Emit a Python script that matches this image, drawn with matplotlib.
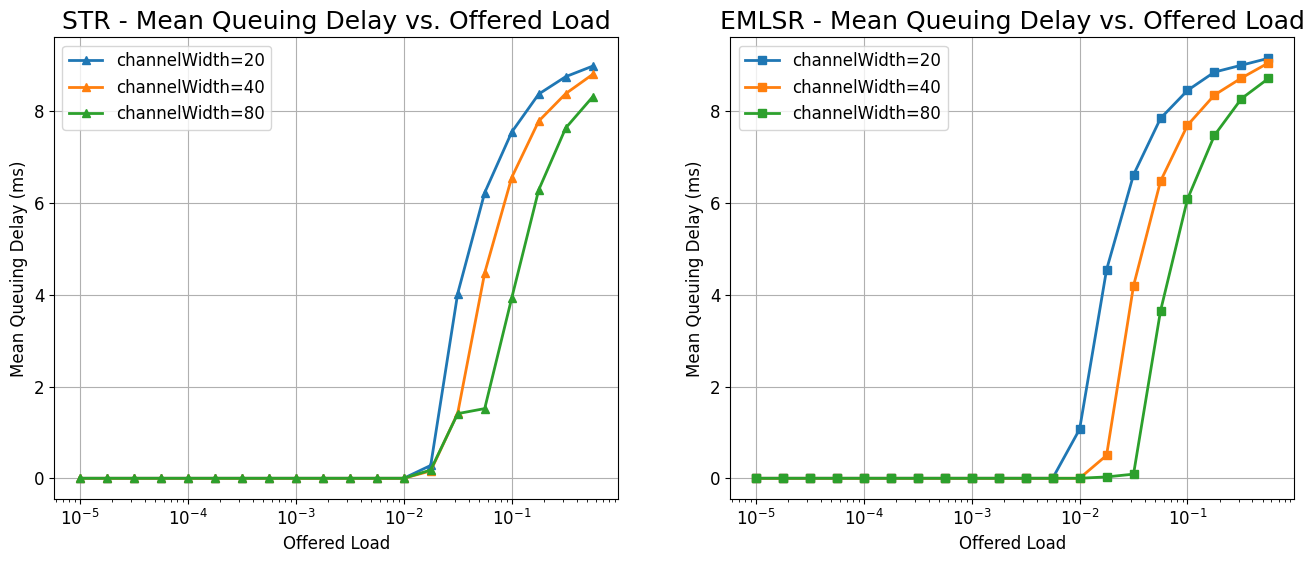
import numpy as np
import matplotlib
matplotlib.use("Agg")
import matplotlib.pyplot as plt

# offered load (4 points per decade)
load = [1e-5, 1.778e-5, 3.162e-5, 5.623e-5,
        1e-4, 1.778e-4, 3.162e-4, 5.623e-4,
        1e-3, 1.778e-3, 3.162e-3, 5.623e-3,
        1e-2, 1.778e-2, 3.162e-2, 5.623e-2,
        1e-1, 1.778e-1, 3.162e-1, 5.623e-1]

widths = [20, 40, 80]

# STR mean queuing delay (ms)
str_20 = [0]*13 + [0.28, 4.03, 6.23, 7.55, 8.38, 8.76, 8.99]
str_40 = [0]*13 + [0.16, 1.42, 4.48, 6.56, 7.79, 8.39, 8.81]
str_80 = [0]*13 + [0.18, 1.41, 1.52, 3.93, 6.29, 7.64, 8.32]

# EMLSR mean queuing delay (ms)
emlsr_20 = [0]*12 + [1.07, 4.55, 6.62, 7.85, 8.46, 8.86, 9.01, 9.16]
emlsr_40 = [0]*13 + [0.50, 4.20, 6.48, 7.70, 8.36, 8.73, 9.06]
emlsr_80 = [0]*13 + [0.03, 0.09, 3.65, 6.09, 7.48, 8.28, 8.72]

plt.rcParams['font.size'] = 12

fig = plt.figure(figsize=(13.14, 5.62), dpi=100)
ax1 = fig.add_axes([0.0411, 0.1116, 0.4295, 0.822])
ax2 = fig.add_axes([0.5558, 0.1116, 0.4290, 0.822], sharey=ax1)

panels = [
    (ax1, "STR", "^", [str_20, str_40, str_80]),
    (ax2, "EMLSR", "s", [emlsr_20, emlsr_40, emlsr_80]),
]

for ax, name, mk, series in panels:
    for w, vals in zip(widths, series):
        ax.plot(load, vals, marker=mk, linewidth=2, markersize=6,
                label="channelWidth=%d" % w)
    ax.set_xscale("log")
    ax.set_xlabel("Offered Load")
    ax.set_ylabel("Mean Queuing Delay (ms)")
    ax.set_title(name + " - Mean Queuing Delay vs. Offered Load", fontsize=18)
    ax.grid(True)
    ax.legend(loc="upper left")

fig.savefig("out.png", dpi=100)
